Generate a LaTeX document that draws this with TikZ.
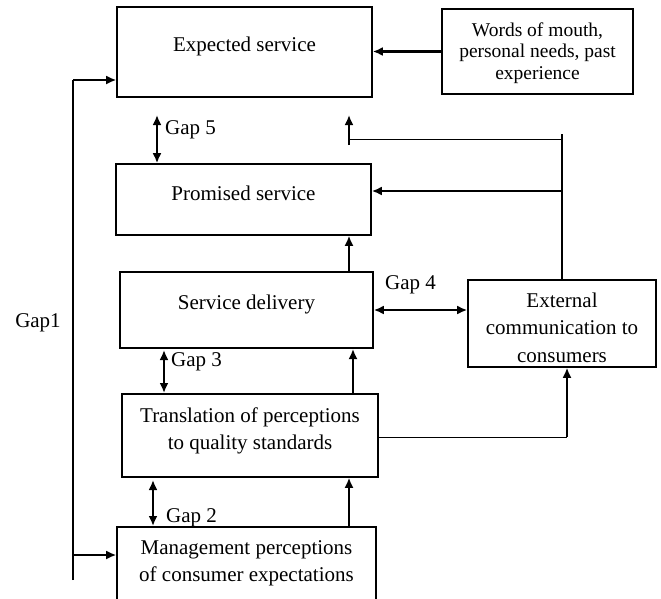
\documentclass[tikz,border=0pt]{standalone}
\usepackage{fontspec}
\setmainfont{Liberation Serif}
\usetikzlibrary{arrows.meta,positioning}

\begin{document}
\begin{tikzpicture}[x=1pt,y=-1pt,>={Latex[length=10pt,width=9pt]},
  box/.style={draw,line width=1.6pt,align=center,inner sep=0pt,font=\fontsize{21}{27}\selectfont},
  gaplabel/.style={inner sep=0pt,anchor=west,font=\fontsize{21}{27}\selectfont},
  bold/.style={line width=2.6pt},
  fine/.style={line width=0.9pt}]
\useasboundingbox (0,0) rectangle (661,598);
% boxes
\node[box,minimum width=255pt,minimum height=90pt,text depth=14.6pt] (expected) at (244.5,52) {Expected service};
\node[box,minimum width=191pt,minimum height=85pt,font=\fontsize{19.5}{21.5}\selectfont,text height=60pt] (words) at (537.5,51.5) {Words of mouth,\\personal needs, past\\experience};
\node[box,minimum width=255pt,minimum height=71pt,text depth=12pt] (promised) at (243.5,199.5) {Promised service};
\node[box,minimum width=253pt,minimum height=76pt,text depth=14.6pt] (delivery) at (246.5,310) {Service delivery};
\node[box,minimum width=188pt,minimum height=87pt,font=\fontsize{21}{27.5}\selectfont,text height=78pt] (external) at (562,323.5) {External\\communication to\\consumers};
\node[box,minimum width=256pt,minimum height=83pt,text depth=14.6pt] (translation) at (250,435.5) {Translation of perceptions\\to quality standards};
\node[box,minimum width=259pt,minimum height=73pt] (management) at (246.5,563.5) {Management perceptions\\of consumer expectations};
% labels
\node[gaplabel] (gap5) at (165,130) {Gap 5};
\node[gaplabel] (gap4) at (385,285) {Gap 4};
\node[gaplabel] (gap3) at (171,362) {Gap 3};
\node[gaplabel] (gap2) at (166,518) {Gap 2};
\node[] (gap1) at (38,323) {\fontsize{21}{27}\selectfont Gap1};
% free ends
\coordinate (g1top) at (73,80);
\coordinate (g1mid) at (73,555);
\coordinate (g1end) at (73,580);
\coordinate (g5end) at (157,115);
\coordinate (fbup) at (349,115);
\coordinate (fbfoot) at (349,145);
\coordinate (fbjoin) at (349,139);
\coordinate (extop) at (562,134);
\coordinate (exmid) at (562,191);
\coordinate (trturn) at (567,437);
% connectors
\draw[bold,->] (words.west) -- (words.west -| expected.east);
\draw[line width=1.8pt] (g1end) -- (g1top);
\draw[line width=1.8pt,->] (g1top) -- (g1top -| expected.west);
\draw[line width=1.8pt,->] (g1mid) -- (g1mid -| management.west);
\draw[bold,<->] (g5end) -- (g5end |- promised.north);
\draw[bold,->] (fbfoot) -- (fbup);
\draw[fine] (fbjoin) -- (fbjoin -| extop);
\draw[line width=1.8pt] (external.north) -- (extop);
\draw[bold,->] (exmid) -- (exmid -| promised.east);
\draw[line width=1.8pt,->] (fbup |- delivery.north) -- (fbup |- promised.south);
\draw[bold,<->] (delivery.east) -- (delivery.east -| external.west);
\draw[bold,<->] (164,350) -- (164,393);
\draw[line width=1.8pt,->] (353,393) -- (353,349);
\draw[fine] (translation.east |- trturn) -- (trturn);
\draw[line width=1.8pt,->] (trturn) -- (trturn |- external.south);
\draw[bold,<->] (153,480) -- (153,526);
\draw[line width=1.8pt,->] (fbup |- management.north) -- (fbup |- translation.south);
\end{tikzpicture}
\end{document}
